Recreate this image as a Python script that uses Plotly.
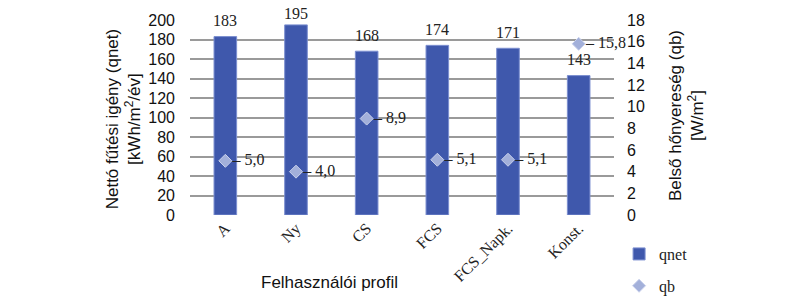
import plotly.graph_objects as go

categories = ["A", "Ny", "CS", "FCS", "FCS_Napk.", "Konst."]
qnet = [183, 195, 168, 174, 171, 143]
qb = [5.0, 4.0, 8.9, 5.1, 5.1, 15.8]

left_ticks = list(range(0, 201, 20))
right_ticks = list(range(0, 19, 2))

serif = "Liberation Serif"
sans = "Liberation Sans"
YMAX = 200

fig = go.Figure()
fig.add_trace(go.Bar(
    x=categories, y=qnet, name="qnet",
    marker=dict(color="#3F58AC", line=dict(color="#7C8FD0", width=1)),
    width=0.32, legendgroup="a",
))
fig.add_trace(go.Scatter(
    x=categories, y=qb, name="qb", yaxis="y2", mode="markers+text",
    marker=dict(symbol="diamond", size=10, color="#A3B0DA",
                line=dict(color="#C9D1EC", width=1)),
    text=["– " + f"{v:.1f}".replace(".", ",") for v in qb],
    textposition="middle right",
    textfont=dict(family=serif, size=16, color="#222"),
    legendgroup="b", cliponaxis=False,
))

# bar value labels (placed in paper units so they may sit above the plot)
for c, v in zip(categories, qnet):
    ly = min(v + 16, 207)
    fig.add_annotation(x=c, xref="x", yref="paper", y=ly / YMAX,
                       text=str(v), showarrow=False,
                       font=dict(family=serif, size=16, color="#222"),
                       yanchor="middle")
    if ly - v > 18:
        fig.add_shape(type="line", x0=c, x1=c, y0=(v + 2) / YMAX,
                      y1=(ly - 7) / YMAX, xref="x", yref="paper",
                      line=dict(color="#BBBBBB", width=1.5))

fig.update_layout(
    width=800, height=300,
    margin=dict(l=190, r=186, t=20, b=85, autoexpand=False),
    plot_bgcolor="white", paper_bgcolor="white",
    bargap=0.68,
    xaxis=dict(
        type="category", tickangle=-45, showgrid=False, showline=False,
        tickfont=dict(family=serif, size=16, color="#222"), ticks="",
        automargin=False,
    ),
    yaxis=dict(
        range=[0, YMAX], tickvals=left_ticks, showgrid=True,
        gridcolor="#9A9A9A", gridwidth=2, zeroline=False,
        tickfont=dict(family=sans, size=16, color="#111"),
        ticks="", ticklabelstandoff=14, automargin=False,
    ),
    yaxis2=dict(
        range=[0, 18], tickvals=right_ticks, overlaying="y", side="right",
        showgrid=False, zeroline=False,
        tickfont=dict(family=sans, size=16, color="#111"),
        ticklabelstandoff=12, automargin=False,
    ),
    legend=dict(x=1.012, y=-0.113, xanchor="left", yanchor="top",
                font=dict(family=serif, size=16, color="#222"),
                tracegroupgap=8, bgcolor="rgba(0,0,0,0)"),
    showlegend=True,
)

fig.add_annotation(xref="paper", yref="paper", x=-0.156, y=0.49,
                   xanchor="center", yanchor="middle",
                   text="Nettó fűtési igény (qnet)<br>[kWh/m<sup>2</sup>/év]",
                   textangle=-90, showarrow=False,
                   font=dict(family=sans, size=17, color="#111"))
fig.add_annotation(xref="paper", yref="paper", x=1.171, y=0.51,
                   xanchor="center", yanchor="middle",
                   text="Belső hőnyereség (qb)<br>[W/m<sup>2</sup>]",
                   textangle=-90, showarrow=False,
                   font=dict(family=sans, size=17, color="#111"))
fig.add_annotation(xref="paper", yref="paper", x=0.33, y=-0.344,
                   xanchor="center", yanchor="middle",
                   text="Felhasználói profil", showarrow=False,
                   font=dict(family=sans, size=17, color="#111"))

fig.write_html("out.html")
